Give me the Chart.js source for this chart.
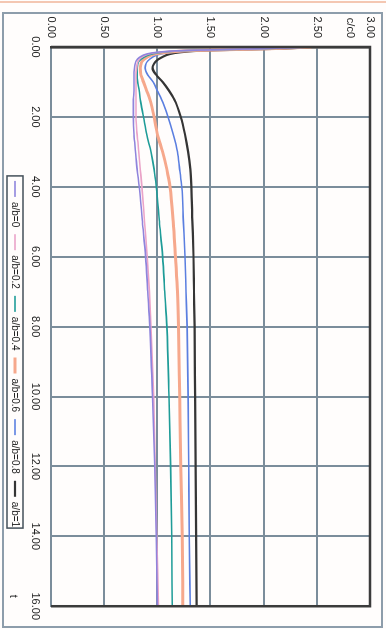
<!DOCTYPE html>
<html><head><meta charset="utf-8">
<script src="https://cdn.jsdelivr.net/npm/chart.js@4.4.1/dist/chart.umd.min.js"></script>
<style>
html,body{margin:0;padding:0;background:#fffdfc;overflow:hidden;width:386px;height:629px}
#wrap{position:absolute;left:0;top:0;width:629px;height:386px;transform-origin:0 0;transform:translate(386px,0) rotate(90deg);}
canvas{display:block}
</style></head><body>
<div id="wrap"><canvas id="c" width="629" height="386"></canvas></div>
<script>
// time values (x axis)
const xValues = [0,0.05,0.1,0.15,0.2,0.3,0.4,0.5,0.6,0.8,1,1.25,1.5,2,2.5,3,3.5,4,5,6,7,8,10,12,14,16];
const seriesNames = ['a/b=0','a/b=0.2','a/b=0.4','a/b=0.6','a/b=0.8','a/b=1'];
const ab0  = [2.45,1.95,1.25,1.00,0.90,0.83,0.80,0.79,0.785,0.78,0.78,0.78,0.775,0.775,0.78,0.795,0.81,0.83,0.86,0.89,0.91,0.93,0.955,0.975,0.99,1.00];
const ab02 = [2.45,1.97,1.28,1.02,0.92,0.85,0.82,0.81,0.805,0.80,0.80,0.80,0.80,0.80,0.81,0.825,0.84,0.855,0.88,0.905,0.925,0.94,0.965,0.98,0.995,1.01];
const ab04 = [2.45,2.00,1.30,1.05,0.95,0.87,0.83,0.815,0.81,0.81,0.815,0.83,0.84,0.87,0.90,0.94,0.97,0.99,1.02,1.05,1.07,1.09,1.11,1.125,1.135,1.14];
const ab06 = [2.45,2.05,1.35,1.10,0.98,0.90,0.86,0.845,0.84,0.845,0.87,0.90,0.93,0.97,1.00,1.05,1.09,1.12,1.15,1.17,1.19,1.20,1.21,1.22,1.235,1.24];
const ab08 = [2.45,2.10,1.40,1.15,1.03,0.95,0.91,0.89,0.885,0.91,0.96,1.00,1.04,1.10,1.15,1.19,1.21,1.23,1.245,1.26,1.27,1.28,1.29,1.295,1.30,1.31];
const ab1  = [2.45,2.15,1.45,1.22,1.12,1.04,0.99,0.965,0.955,0.99,1.05,1.11,1.16,1.22,1.26,1.29,1.31,1.32,1.33,1.34,1.345,1.35,1.355,1.36,1.365,1.37];
const xTickLabels = ['0.00','2.00','4.00','6.00','8.00','10.00','12.00','14.00','16.00'];
const yTickLabels = ['0.00','0.50','1.00','1.50','2.00','2.50','3.00'];
const xTitle = 't';
const yTitle = 'c/c0';

const seriesValues = [ab0, ab02, ab04, ab06, ab08, ab1];
const colors = ['#8f84dc','#eaa3c8','#1f9c98','#f6a88c','#5b7fe0','#353535'];
const widths = [1.6,1.6,1.6,3,1.6,2.2];
const FONT = "'Liberation Sans', Arial, sans-serif";

const datasets = seriesNames.map((name, k) => ({
  label: name,
  data: xValues.map((x, i) => ({x: x, y: seriesValues[k][i]})),
  borderColor: colors[k],
  backgroundColor: colors[k],
  borderWidth: widths[k],
  pointRadius: 0,
  fill: false,
  cubicInterpolationMode: 'monotone'
}));

const decor = {
  id: 'decor',
  afterLayout(chart) {
    const lg = chart.legend;
    lg.left += 48; lg.right += 48;
  },
  beforeDraw(chart) {
    const ctx = chart.ctx;
    ctx.save();
    ctx.fillStyle = '#fffdfc';
    ctx.fillRect(0, 0, chart.width, chart.height);
    ctx.strokeStyle = '#8d9dab';
    ctx.lineWidth = 2;
    ctx.strokeRect(13, 4, 614, 379);
    ctx.strokeStyle = '#f0b59a';
    ctx.lineWidth = 1.5;
    ctx.beginPath(); ctx.moveTo(2, 0); ctx.lineTo(2, chart.height); ctx.stroke();
    ctx.restore();
  },
  afterDraw(chart) {
    const ctx = chart.ctx, a = chart.chartArea;
    ctx.save();
    ctx.strokeStyle = '#3b3b3b';
    ctx.lineWidth = 2.5;
    ctx.beginPath();
    ctx.moveTo(a.left, a.bottom); ctx.lineTo(a.left, a.top); ctx.lineTo(a.right, a.top); ctx.lineTo(a.right, a.bottom);
    ctx.stroke();
    // legend frame
    const hb = chart.legend.legendHitBoxes;
    if (hb && hb.length) {
      let l = Infinity, r = -Infinity, t = Infinity, b = -Infinity;
      hb.forEach(h => { l = Math.min(l, h.left); r = Math.max(r, h.left + h.width); t = Math.min(t, h.top); b = Math.max(b, h.top + h.height); });
      ctx.strokeStyle = '#44505a';
      ctx.lineWidth = 1.5;
      ctx.strokeRect(l - 5, t - 3, r - l + 6, b - t + 6);
    }
    ctx.fillStyle = '#222';
    ctx.font = '11px ' + FONT;
    ctx.textAlign = 'right';
    ctx.textBaseline = 'middle';
    ctx.fillText(yTitle, a.left - 9, a.top + 20);
    ctx.textAlign = 'center';
    ctx.fillText(xTitle, a.right - 10, chart.legend.top + chart.legend.height / 2);
    ctx.restore();
  }
};

new Chart(document.getElementById('c'), {
  type: 'line',
  data: { datasets },
  options: {
    responsive: false,
    animation: false,
    devicePixelRatio: 1,
    layout: { padding: { left: 0, right: 17, top: 16, bottom: 0 } },
    plugins: {
      tooltip: { enabled: false },
      legend: {
        position: 'bottom',
        labels: {
          usePointStyle: true,
          pointStyle: 'line',
          pointStyleWidth: 16,
          boxHeight: 10,
          padding: 7,
          color: '#222',
          font: { family: FONT, size: 10 }
        }
      }
    },
    scales: {
      x: {
        type: 'linear', min: 0, max: 16,
        afterFit: s => { s.height = 24; },
        ticks: { stepSize: 2, padding: 9, color: '#222', font: { family: FONT, size: 11 }, maxRotation: 0,
          callback: (v, i) => xTickLabels[i] },
        grid: { color: '#7b8d9b', lineWidth: 2, drawTicks: false },
        border: { color: '#7b8d9b', width: 2 }
      },
      y: {
        min: 0, max: 3,
        afterFit: s => { s.width = 47; },
        ticks: { stepSize: 0.5, padding: 9, color: '#222', font: { family: FONT, size: 11 },
          callback: (v, i) => yTickLabels[i] },
        grid: { color: '#7b8d9b', lineWidth: 2, drawTicks: false },
        border: { color: '#3b3b3b', width: 2.5 }
      }
    }
  },
  plugins: [decor]
});
</script>
</body></html>
